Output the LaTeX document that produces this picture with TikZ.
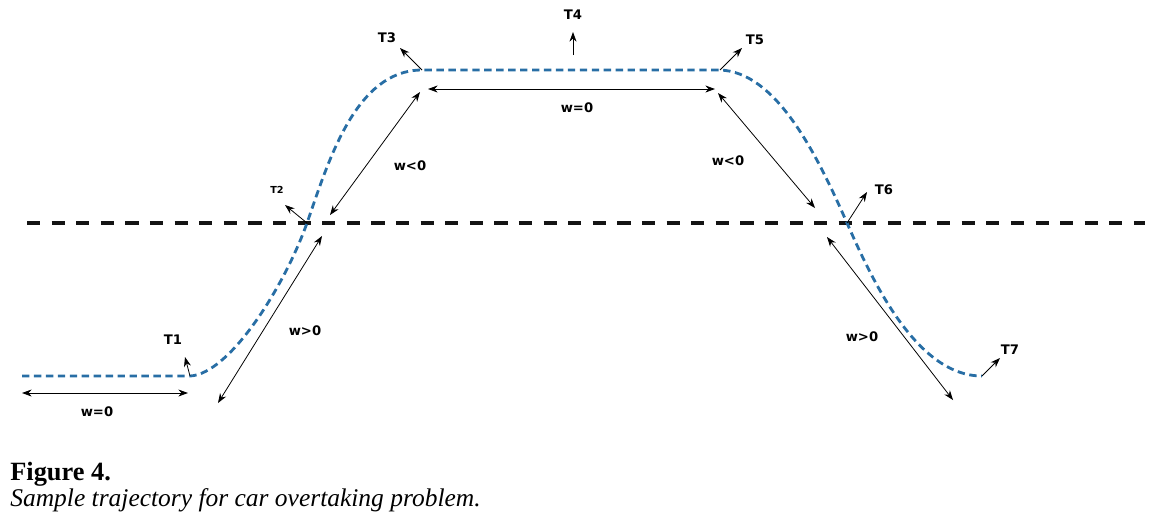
\documentclass[tikz,border=0pt]{standalone}
\usepackage{fontspec}
\setmainfont{Liberation Serif}
\setsansfont{DejaVu Sans}
\usetikzlibrary{arrows.meta}
\definecolor{trajblue}{RGB}{40,110,165}
\definecolor{laneblack}{RGB}{20,20,20}

\begin{document}
\begin{tikzpicture}[
  x=0.02cm, y=-0.02cm,
  lane/.style={draw=laneblack, line width=2.8pt, dash pattern=on 7.5pt off 6.5pt},
  traj/.style={draw=trajblue, line width=1.6pt, dash pattern=on 4.2pt off 2.6pt},
  warr/.style={{Stealth[length=5.5pt,width=4pt]}-{Stealth[length=5.5pt,width=4pt]},
               line width=0.45pt},
  tarr/.style={-{Stealth[length=5.5pt,width=4pt]}, line width=0.45pt},
  lbl/.style={font=\sffamily\bfseries\fontsize{7.5}{9}\selectfont, inner sep=0pt},
  slbl/.style={font=\sffamily\bfseries\fontsize{5.5}{7}\selectfont, inner sep=0pt}
]
\useasboundingbox (0,0) rectangle (1159,529);
% lane divider
\coordinate (laneL) at (27,223);
\coordinate (laneR) at (1145,223);
\draw[lane] (laneL) -- (laneR);
% trajectory points
\coordinate (s0) at (22,376);
\coordinate (s1) at (190,376);
\coordinate (s2) at (307,223);
\coordinate (s3) at (422,70);
\coordinate (s4) at (720,70);
\coordinate (s5) at (847,223);
\coordinate (s6) at (982,376);
\draw[traj] (s0) -- (s1)
  .. controls (230,374) and (285,285) .. (s2)
  .. controls (328,163) and (355,70) .. (s3) -- (s4)
  .. controls (775,72) and (815,150) .. (s5)
  .. controls (870,275) and (915,376) .. (s6);
% width arrows
\coordinate (a1) at (22,393);  \coordinate (b1) at (188,393);
\coordinate (a2) at (218,403); \coordinate (b2) at (322,236);
\coordinate (a3) at (330,215); \coordinate (b3) at (420,92);
\coordinate (a4) at (428,89);  \coordinate (b4) at (715,89);
\coordinate (a5) at (718,93);  \coordinate (b5) at (815,208);
\coordinate (a6) at (827,237); \coordinate (b6) at (953,400);
\foreach \a/\b in {a1/b1,a2/b2,a3/b3,a4/b4,a5/b5,a6/b6}
  \draw[warr] (\a) -- (\b);
\node[lbl] (w1) at (97,412) {w=0};
\node[lbl] (w2) at (305,331) {w>0};
\node[lbl] (w3) at (410,166) {w<0};
\node[lbl] (w4) at (577,108) {w=0};
\node[lbl] (w5) at (728,161) {w<0};
\node[lbl] (w6) at (862,337) {w>0};
% tangent arrows
\coordinate (m4) at (573,55);
\coordinate (e1) at (185,357);
\coordinate (e2) at (285,205);
\coordinate (e3) at (400,48);
\coordinate (e4) at (573,32);
\coordinate (e5) at (742,48);
\coordinate (e6) at (867,192);
\coordinate (e7) at (1000,358);
\foreach \a/\b in {s1/e1,s2/e2,s3/e3,m4/e4,s4/e5,s5/e6,s6/e7}
  \draw[tarr] (\a) -- (\b);
\node[lbl] (t1) at (173,340) {T1};
\node[slbl] (t2) at (277,190) {T2};
\node[lbl] (t3) at (387,38) {T3};
\node[lbl] (t4) at (573,15) {T4};
\node[lbl] (t5) at (755,40) {T5};
\node[lbl] (t6) at (884,190) {T6};
\node[lbl] (t7) at (1010,350) {T7};
% caption
\node[anchor=base west, inner sep=0pt, font=\bfseries\fontsize{15}{17}\selectfont]
  (fig) at (10,480) {Figure 4.};
\node[anchor=base west, inner sep=0pt, font=\itshape\fontsize{14.5}{17}\selectfont]
  (cap) at (10,506) {Sample trajectory for car overtaking problem.};
\end{tikzpicture}
\end{document}
